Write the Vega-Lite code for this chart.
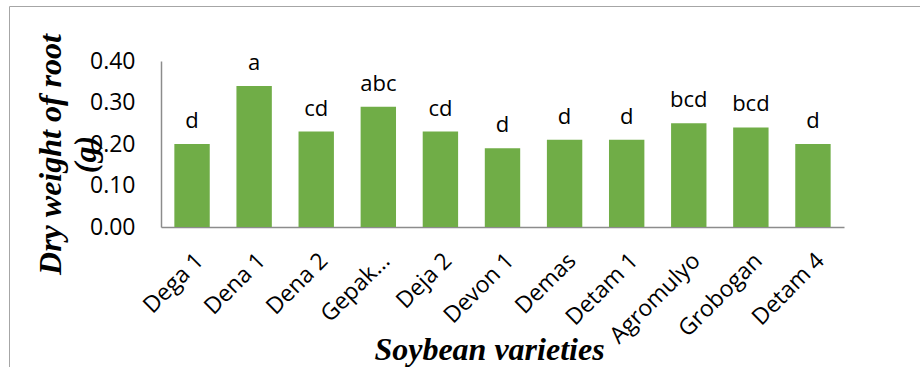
{
  "$schema": "https://vega.github.io/schema/vega-lite/v6.json",
  "autosize": "none",
  "width": 911,
  "height": 361,
  "padding": {"left": 9, "top": 6, "right": 0, "bottom": 0},
  "background": "white",
  "config": {"view": {"stroke": "#a6a6a6", "strokeWidth": 1}},
  "data": {"values": [
    {"variety": "Dega 1", "weight": 0.20, "group": "d"},
    {"variety": "Dena 1", "weight": 0.34, "group": "a"},
    {"variety": "Dena 2", "weight": 0.23, "group": "cd"},
    {"variety": "Gepak…", "weight": 0.29, "group": "abc"},
    {"variety": "Deja 2", "weight": 0.23, "group": "cd"},
    {"variety": "Devon 1", "weight": 0.19, "group": "d"},
    {"variety": "Demas", "weight": 0.21, "group": "d"},
    {"variety": "Detam 1", "weight": 0.21, "group": "d"},
    {"variety": "Agromulyo", "weight": 0.25, "group": "bcd"},
    {"variety": "Grobogan", "weight": 0.24, "group": "bcd"},
    {"variety": "Detam 4", "weight": 0.20, "group": "d"}
  ]},
  "encoding": {
    "x": {"field": "variety", "type": "nominal", "sort": null,
      "scale": {"range": [152, 835], "paddingInner": 0.43, "paddingOuter": 0.215},
      "axis": {"title": "Soybean varieties", "offset": -140, "labelAngle": -45, "labelAlign": "right", "labelBaseline": "top",
        "labelFont": "Open Sans", "labelFontSize": 23, "labelColor": "#000000", "labelPadding": 22, "labelOverlap": false,
        "ticks": false, "domainColor": "#8c8c8c", "domainWidth": 1.5,
        "titleFont": "Liberation Serif", "titleFontSize": 32, "titleFontWeight": "bold", "titleFontStyle": "italic",
        "titleColor": "#000000", "titleX": 480, "titleY": 132, "titleBaseline": "alphabetic"}},
    "y": {"field": "weight", "type": "quantitative",
      "scale": {"domain": [0, 0.4], "range": [221, 55]},
      "axis": {"title": ["Dry weight of root", "(g)"], "offset": -152, "values": [0, 0.1, 0.2, 0.3, 0.4], "format": ".2f", "grid": false,
        "ticks": false, "labelFont": "Open Sans", "labelFontSize": 23, "labelColor": "#000000", "labelPadding": 26,
        "domainColor": "#8c8c8c", "domainWidth": 1.5,
        "titleFont": "Liberation Serif", "titleFontSize": 32, "titleFontWeight": "bold", "titleFontStyle": "italic",
        "titleColor": "#000000", "titleX": -111, "titleY": 148, "titleLineHeight": 35, "titleBaseline": "middle"}}
  },
  "layer": [
    {"mark": {"type": "bar", "color": "#70ad47"}},
    {"mark": {"type": "text", "font": "Open Sans", "fontSize": 22, "color": "#000000", "baseline": "bottom", "dy": -11},
     "encoding": {"text": {"field": "group"}}}
  ]
}
